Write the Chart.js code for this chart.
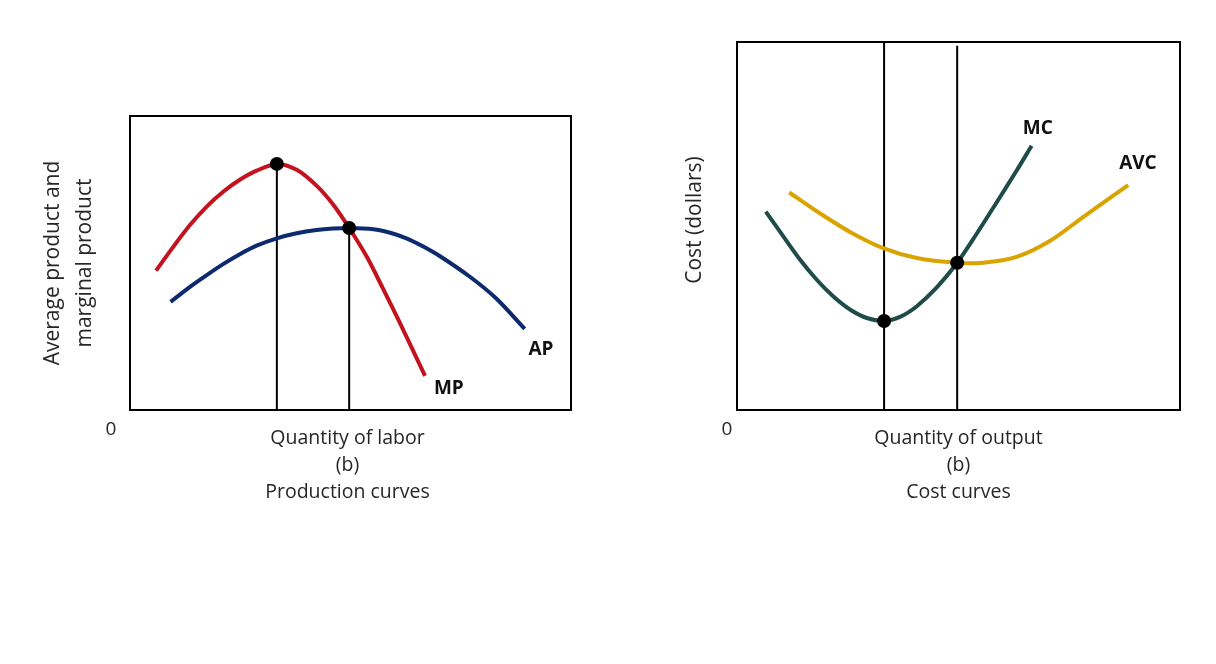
<!DOCTYPE html>
<html>
<head>
<meta charset="utf-8">
<script src="https://cdn.jsdelivr.net/npm/chart.js@4.4.1/dist/chart.umd.min.js"></script>
<style>
  html, body { margin: 0; padding: 0; background: #ffffff; }
  body { width: 1216px; height: 664px; position: relative; overflow: hidden; }
  .panel { position: absolute; top: 0; width: 608px; height: 664px; }
  #p1 { left: 0; }
  #p2 { left: 608px; }
</style>
</head>
<body>
<div class="panel" id="p1"><canvas id="c1"></canvas></div>
<div class="panel" id="p2"><canvas id="c2"></canvas></div>
<script>
// ---- Production curves (left panel) ----
const mpX = [5.9, 9.8, 13.6, 17.4, 21.2, 24.9, 28.7, 33.3, 37.8, 42.3, 46.1, 49.7, 53.7, 57.4, 61.2, 66.9];
const mpY = [47.4, 55.5, 62.9, 69.2, 74.3, 78.3, 81.4, 83.7, 81.7, 76.3, 69.8, 61.9, 52.1, 41.2, 29.6, 11.6];
const apX = [9.2, 13.6, 17.4, 21.2, 24.9, 28.7, 33.3, 37.8, 42.3, 46.0, 49.7, 55.2, 59.0, 62.7, 66.5, 70.3, 77.0, 83.0, 89.5];
const apY = [36.8, 41.9, 45.9, 49.7, 53.0, 55.9, 58.4, 60.1, 61.2, 61.7, 61.9, 61.5, 60.3, 58.4, 55.6, 52.3, 45.4, 38.0, 27.6];
const prodDotsX = [33.3, 49.7];
const prodDotsY = [83.7, 61.9];
const prodLabels = ["MP", "AP"];
const prodYTitle = ["Average product and", "marginal product"];
const prodXTitle = ["Quantity of labor", "(b)", "Production curves"];

// ---- Cost curves (right panel) ----
const mcX = [6.5, 10.5, 14.2, 18.0, 21.7, 25.5, 29.3, 33.2, 36.8, 40.6, 45.1, 49.7, 54.1, 58.6, 63.1, 66.5];
const mcY = [53.9, 47.1, 40.9, 35.4, 30.9, 27.3, 25.0, 24.2, 25.3, 28.2, 33.3, 40.0, 47.9, 56.4, 65.0, 71.8];
const avcX = [11.8, 18.0, 25.5, 33.0, 40.6, 49.7, 55.6, 63.1, 70.7, 78.2, 88.3];
const avcY = [59.1, 54.0, 48.4, 44.0, 41.3, 40.0, 40.0, 41.6, 46.0, 52.5, 61.1];
const costDotsX = [33.2, 49.7];
const costDotsY = [24.2, 40.0];
const costLabels = ["MC", "AVC"];
const costYTitle = ["Cost (dollars)"];
const costXTitle = ["Quantity of output", "(b)", "Cost curves"];

const originLabel = "0";

function pts(xs, ys) { return xs.map((x, i) => ({ x: x, y: ys[i] })); }

const FONT = "'Open Sans', 'Noto Sans', sans-serif";

function curve(xs, ys, color) {
  return {
    data: pts(xs, ys), borderColor: color, borderWidth: 4, pointRadius: 0,
    showLine: true, tension: 0.3, fill: false, borderCapStyle: 'butt', borderJoinStyle: 'round'
  };
}
function vline(x, yTop) {
  return {
    data: [{ x: x, y: 0 }, { x: x, y: yTop }], borderColor: '#000000', borderWidth: 2,
    pointRadius: 0, showLine: true, tension: 0, fill: false
  };
}
function dots(xs, ys) {
  return {
    data: pts(xs, ys), showLine: false, pointRadius: 7, pointHoverRadius: 7,
    pointBackgroundColor: '#000000', pointBorderColor: '#000000', pointBorderWidth: 0
  };
}

function decorPlugin(cfg) {
  return {
    id: 'decor',
    beforeDatasetsDraw(chart) {
      const a = chart.chartArea, ctx = chart.ctx;
      ctx.save();
      ctx.strokeStyle = '#000000';
      ctx.lineWidth = 2;
      ctx.strokeRect(a.left, a.top, a.right - a.left, a.bottom - a.top);
      ctx.restore();
    },
    afterDraw(chart) {
      const a = chart.chartArea, ctx = chart.ctx;
      const sx = chart.scales.x, sy = chart.scales.y;
      ctx.save();
      ctx.fillStyle = '#262626';
      ctx.textAlign = 'center';
      ctx.textBaseline = 'middle';
      // origin label
      ctx.font = "19px " + FONT;
      ctx.fillText(originLabel, a.left + cfg.zeroDx, a.bottom + 20);
      // x title
      ctx.font = "19.5px " + FONT;
      cfg.xTitle.forEach((t, i) => ctx.fillText(t, (a.left + a.right) / 2 + cfg.xTitleDx, a.bottom + 28 + i * 27));
      // y title (rotated)
      ctx.save();
      ctx.translate(a.left + cfg.yTitleDx, cfg.yTitleCy);
      ctx.rotate(-Math.PI / 2);
      ctx.font = "21px " + FONT;
      const n = cfg.yTitle.length;
      cfg.yTitle.forEach((t, i) => ctx.fillText(t, 0, (i - (n - 1) / 2) * 32));
      ctx.restore();
      // curve labels
      ctx.fillStyle = '#111111';
      ctx.font = "bold 19px " + FONT;
      cfg.curveLabels.forEach((t, i) => {
        const p = cfg.labelPos[i];
        ctx.fillText(t, sx.getPixelForValue(p[0]), sy.getPixelForValue(p[1]));
      });
      ctx.restore();
    }
  };
}

function makeChart(id, datasets, padding, cfg) {
  return new Chart(document.getElementById(id), {
    type: 'scatter',
    data: { datasets: datasets },
    options: {
      responsive: true, maintainAspectRatio: false, animation: false,
      layout: { padding: padding },
      plugins: { legend: { display: false }, tooltip: { enabled: false } },
      scales: {
        x: { type: 'linear', min: 0, max: 100, display: false },
        y: { type: 'linear', min: 0, max: 100, display: false }
      }
    },
    plugins: [decorPlugin(cfg)]
  });
}

// Datasets listed top-most first (Chart.js draws index 0 last).
makeChart('c1', [
  dots(prodDotsX, prodDotsY),
  curve(mpX, mpY, '#c4121f'),
  curve(apX, apY, '#0d2a6e'),
  vline(prodDotsX[0], prodDotsY[0]),
  vline(prodDotsX[1], prodDotsY[1])
], { left: 130, right: 37, top: 116, bottom: 254 }, {
  xTitle: prodXTitle, yTitle: prodYTitle, curveLabels: prodLabels,
  labelPos: [[72.3, 7.2], [93.2, 20.4]],
  zeroDx: -19, xTitleDx: -3, yTitleDx: -61, yTitleCy: 263
});

makeChart('c2', [
  dots(costDotsX, costDotsY),
  curve(mcX, mcY, '#1f4c4a'),
  curve(avcX, avcY, '#d9a300'),
  vline(costDotsX[0], 100),
  vline(costDotsX[1], 99)
], { left: 129, right: 36, top: 42, bottom: 254 }, {
  xTitle: costXTitle, yTitle: costYTitle, curveLabels: costLabels,
  labelPos: [[67.9, 76.4], [90.5, 66.9]],
  zeroDx: -10, xTitleDx: 0, yTitleDx: -42, yTitleCy: 220
});
</script>
</body>
</html>
